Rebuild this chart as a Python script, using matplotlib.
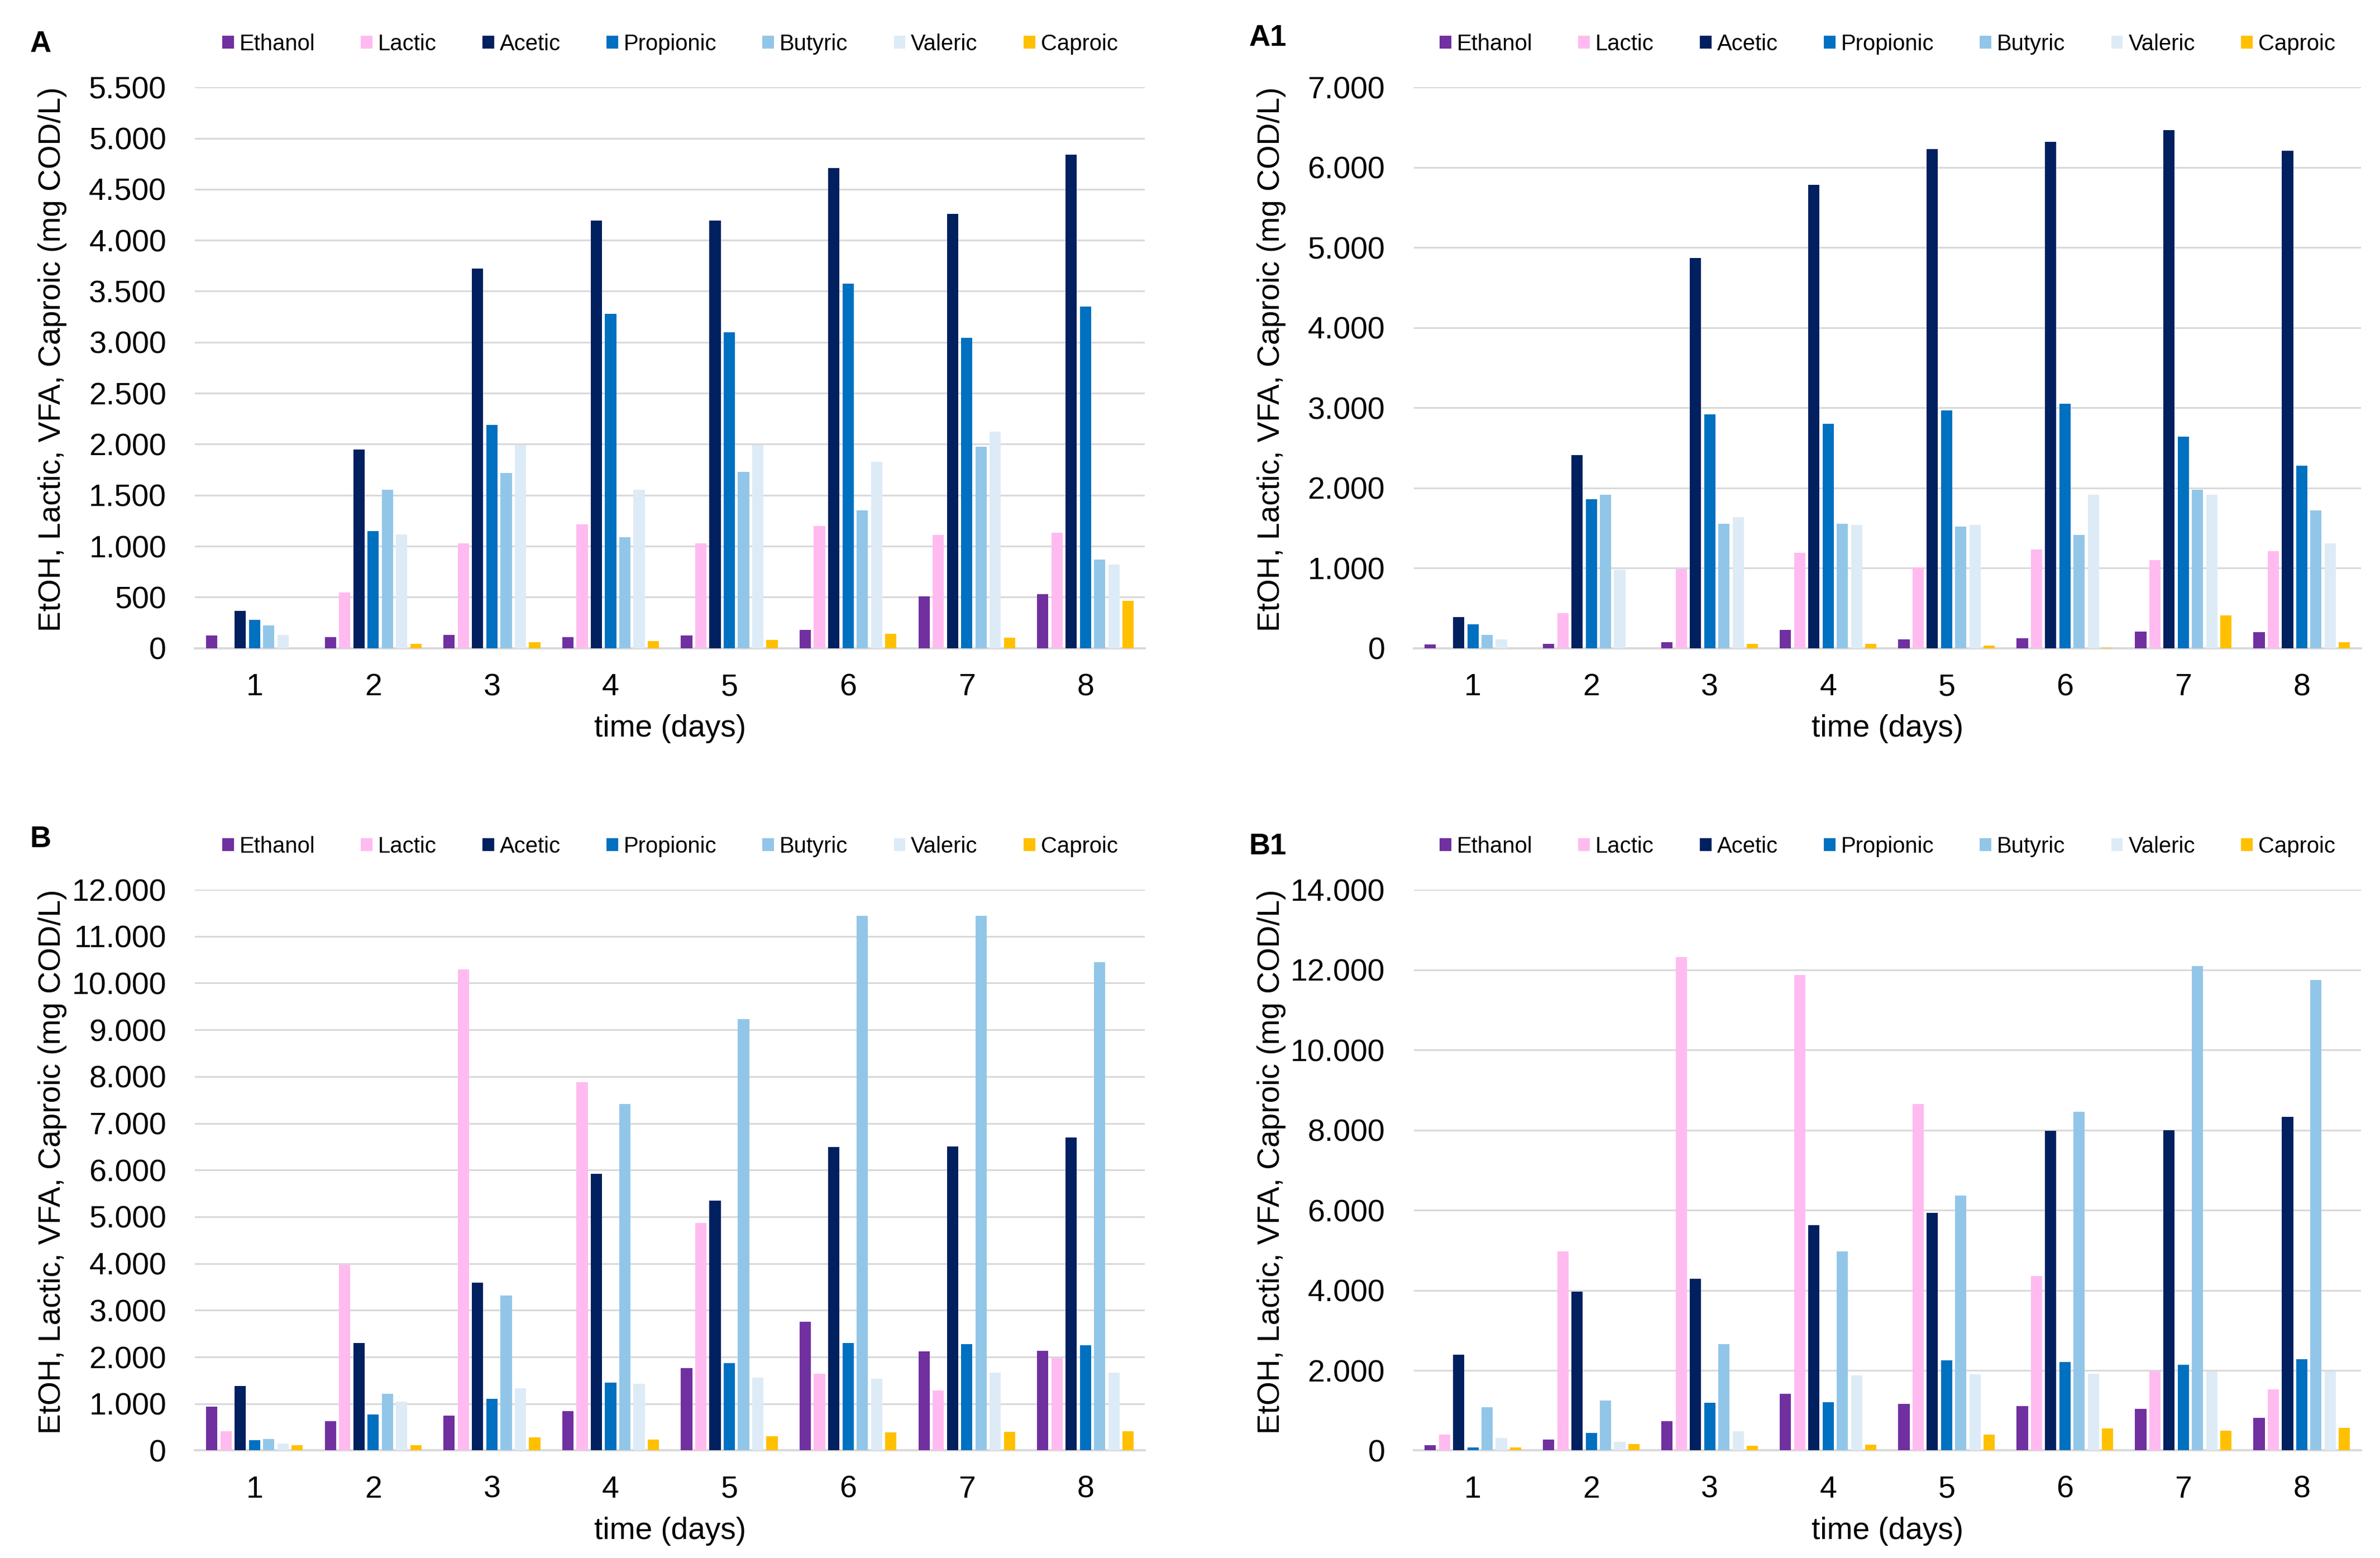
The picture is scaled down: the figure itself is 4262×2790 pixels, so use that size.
import numpy as np
import matplotlib
matplotlib.use("Agg")
import matplotlib.pyplot as plt
from matplotlib.ticker import FuncFormatter, MultipleLocator

plt.rcParams['font.family'] = ['Liberation Sans', 'DejaVu Sans']

# data (mg COD/L), days 1..8
days = [1, 2, 3, 4, 5, 6, 7, 8]
names = ["Ethanol", "Lactic", "Acetic", "Propionic", "Butyric", "Valeric", "Caproic"]
colors = ["#7030A0", "#FFBBF0", "#002060", "#0070C0", "#92C6E8", "#DDEBF7", "#FFC000"]

# panel A
ethanol_A = [125, 110, 130, 110, 125, 180, 505, 530]
lactic_A = [0, 545, 1030, 1215, 1025, 1195, 1110, 1130]
acetic_A = [365, 1950, 3720, 4195, 4195, 4705, 4260, 4840]
propionic_A = [275, 1150, 2190, 3280, 3095, 3575, 3040, 3350]
butyric_A = [220, 1555, 1715, 1090, 1730, 1350, 1975, 870]
valeric_A = [130, 1115, 1990, 1555, 1990, 1825, 2120, 820]
caproic_A = [0, 40, 60, 70, 80, 140, 100, 465]

# panel A1
ethanol_A1 = [45, 50, 75, 230, 110, 120, 210, 200]
lactic_A1 = [0, 435, 985, 1190, 1005, 1230, 1100, 1210]
acetic_A1 = [385, 2410, 4870, 5785, 6230, 6320, 6465, 6205]
propionic_A1 = [300, 1855, 2915, 2800, 2965, 3050, 2640, 2275]
butyric_A1 = [165, 1915, 1555, 1555, 1520, 1415, 1980, 1720]
valeric_A1 = [110, 980, 1635, 1535, 1535, 1915, 1915, 1310]
caproic_A1 = [0, 0, 55, 50, 30, 5, 410, 75]

# panel B
ethanol_B = [940, 630, 745, 845, 1760, 2755, 2125, 2135]
lactic_B = [415, 3970, 10290, 7875, 4865, 1645, 1280, 1975]
acetic_B = [1375, 2305, 3590, 5915, 5350, 6490, 6510, 6695]
propionic_B = [225, 770, 1100, 1450, 1870, 2295, 2275, 2255]
butyric_B = [245, 1215, 3310, 7415, 9225, 11435, 11445, 10450]
valeric_B = [150, 1045, 1335, 1430, 1560, 1535, 1665, 1665]
caproic_B = [115, 115, 280, 235, 310, 385, 405, 415]

# panel B1
ethanol_B1 = [135, 275, 735, 1420, 1160, 1110, 1035, 820]
lactic_B1 = [400, 4970, 12315, 11870, 8645, 4360, 1980, 1520]
acetic_B1 = [2390, 3960, 4285, 5630, 5930, 7985, 7995, 8330]
propionic_B1 = [75, 435, 1185, 1210, 2255, 2215, 2140, 2280]
butyric_B1 = [1085, 1245, 2655, 4970, 6365, 8455, 12090, 11745]
valeric_B1 = [310, 210, 485, 1880, 1905, 1920, 1970, 1970]
caproic_B1 = [75, 160, 125, 150, 400, 550, 500, 560]


def dotfmt(v, pos):
    # thousands separator is a dot in the original
    return "{:,}".format(int(round(v))).replace(",", ".")


def draw_panel(ax, series, ymax, step, letter, letter_y=1.077):
    x = np.array(days, dtype=float)
    pitch = 0.12
    width = 0.095
    for i, vals in enumerate(series):
        ax.bar(x + (i - 3) * pitch, vals, width, color=colors[i], label=names[i], zorder=3)
    ax.set_xlim(0.5, 8.5)
    ax.set_ylim(0, ymax)
    ax.yaxis.set_major_locator(MultipleLocator(step))
    ax.yaxis.set_major_formatter(FuncFormatter(dotfmt))
    ax.set_xticks(days)
    ax.grid(axis='y', color='#D9D9D9', linewidth=1.1, zorder=0)
    for s in ['top', 'right', 'left']:
        ax.spines[s].set_visible(False)
    ax.spines['bottom'].set_color('#D9D9D9')
    ax.spines['bottom'].set_linewidth(1.4)
    ax.tick_params(axis='both', length=0, labelsize=20)
    ax.tick_params(axis='y', pad=18.5)
    ax.tick_params(axis='x', pad=16)
    ax.set_xlabel("time (days)", fontsize=19.8, labelpad=8)
    ax.set_ylabel("EtOH, Lactic, VFA, Caproic (mg COD/L)", fontsize=19.8)
    ax.yaxis.set_label_coords(-0.135, 0.515)
    ax.legend(loc='center', bbox_to_anchor=(0.5, 1.077), ncol=7, frameon=False,
              fontsize=14.4, handlelength=0.52, handleheight=0.52, handletextpad=0.25,
              columnspacing=2.05)
    ax.text(-0.174, letter_y, letter, transform=ax.transAxes, fontsize=19,
            fontweight='bold', va='center', ha='left')


fig = plt.figure(figsize=(21.31, 13.95), dpi=200)
axA = fig.add_axes([0.082, 0.584, 0.399, 0.360])
axA1 = fig.add_axes([0.594, 0.584, 0.398, 0.360])
axB = fig.add_axes([0.082, 0.069, 0.399, 0.360])
axB1 = fig.add_axes([0.594, 0.069, 0.398, 0.360])

draw_panel(axA, [ethanol_A, lactic_A, acetic_A, propionic_A, butyric_A, valeric_A, caproic_A],
           5500, 500, "A")
draw_panel(axA1, [ethanol_A1, lactic_A1, acetic_A1, propionic_A1, butyric_A1, valeric_A1, caproic_A1],
           7000, 1000, "A1", 1.088)
draw_panel(axB, [ethanol_B, lactic_B, acetic_B, propionic_B, butyric_B, valeric_B, caproic_B],
           12000, 1000, "B", 1.090)
draw_panel(axB1, [ethanol_B1, lactic_B1, acetic_B1, propionic_B1, butyric_B1, valeric_B1, caproic_B1],
           14000, 2000, "B1")

fig.savefig("out.png", dpi=200, facecolor='white')
